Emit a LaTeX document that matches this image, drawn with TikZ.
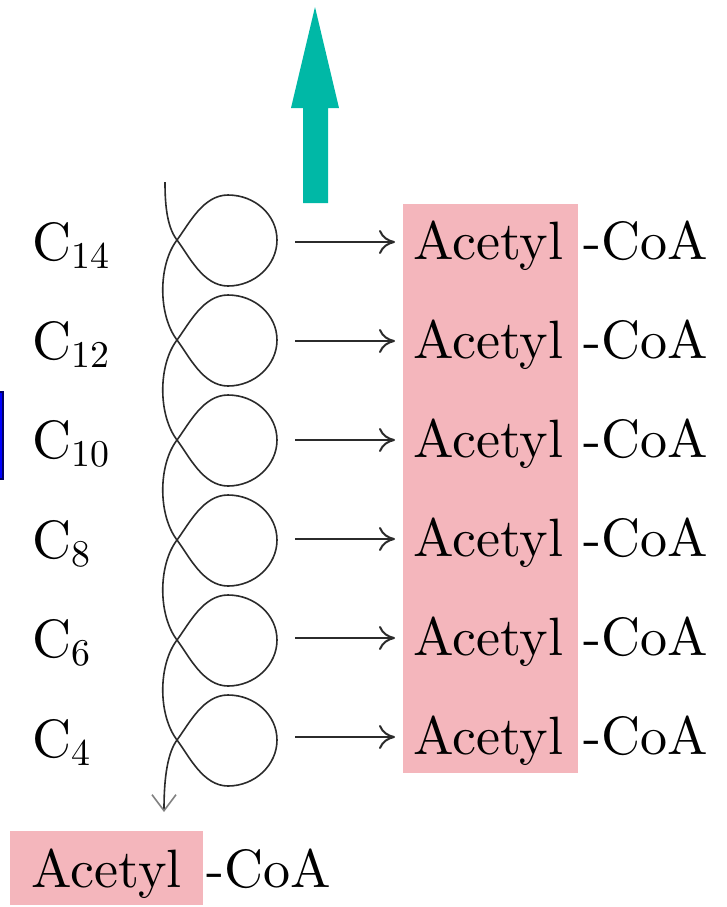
\documentclass[tikz,border=0pt]{standalone}
\usepackage{fontspec}
\setmainfont{lmroman10-regular}[Extension=.otf]
\usepackage{tikz}
\usetikzlibrary{arrows.meta,positioning}
\definecolor{acyl}{HTML}{F4B6BC}
\definecolor{oxgreen}{HTML}{00B8A6}
\definecolor{curl}{HTML}{2B2B2B}

\begin{document}
\begin{tikzpicture}[x=0.5pt,y=-0.5pt,font=\fontsize{27}{32}\selectfont,
  conv/.style={-{To[length=8pt,width=12pt]},line width=1pt,curl,shorten >=4pt}]
\useasboundingbox (0,0) rectangle (727,907);
\fill[acyl] (403,204) rectangle (578,773);
\fill[oxgreen] (303,203) -- (328,203) -- (328,108) -- (339,108) -- (315,7) -- (291,108) -- (303,108) -- cycle;
\filldraw[fill=blue,draw=blue!40!black,line width=0.6pt] (-3,392) rectangle (3,479);
\foreach \k/\n in {0/14,1/12,2/10,3/8,4/6,5/4}{
  \node[anchor=base west,inner sep=0] (c\n) at (32,260+99.4*\k) {C\textsubscript{\n}};
  \node[anchor=base west,inner xsep=5pt,inner ysep=0] (ac\k) at (403,259+99*\k) {Acetyl};
  \node[anchor=base west,inner sep=0] (coa\k) at ([xshift=4.5pt]ac\k.base east) {-CoA};
  \coordinate (s\k) at (295,242+99*\k);
  \draw[conv] (s\k) -- (s\k -| ac\k.west);
}
\node[anchor=base west,fill=acyl,inner xsep=0pt,inner ysep=0,minimum width=96.5pt,text height=28pt,text depth=9pt] (acout) at (10,887) {Acetyl};
\node[anchor=base west,inner sep=0] (coaout) at ([xshift=1pt]acout.base east) {-CoA};
\coordinate (top) at (165,182);
\coordinate (tail) at (164,812);
\draw[line width=0.8pt,curl,-{Straight Barb[length=8pt,width=12pt,color=gray]}]
  (top) .. controls (165,200) and (166,226) .. (177,240)
  .. controls (189,256) and (203,286) .. (228,286)
  .. controls (255,286) and (277,265) .. (277,240)
  .. controls (277,215) and (255,195) .. (228,195)
  .. controls (203,195) and (189,224) .. (177,240)
  \foreach \k [evaluate=\k as \cy using 240+100*\k] in {1,...,5}{
    .. controls (158,\cy-75) and (158,\cy-25) .. (177,\cy)
    .. controls (189,\cy+16) and (203,\cy+46) .. (228,\cy+46)
    .. controls (255,\cy+46) and (277,\cy+25) .. (277,\cy)
    .. controls (277,\cy-25) and (255,\cy-45) .. (228,\cy-45)
    .. controls (203,\cy-45) and (189,\cy-16) .. (177,\cy)
  }
  .. controls (166,755) and (164,785) .. (tail);
\end{tikzpicture}
\end{document}
